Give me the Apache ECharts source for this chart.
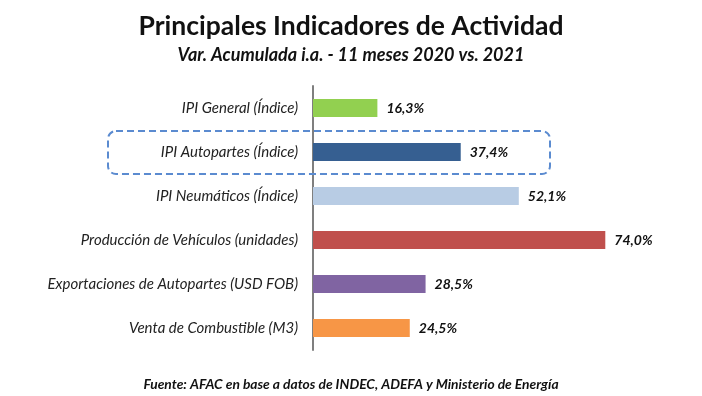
<!DOCTYPE html>
<html>
<head>
<meta charset="utf-8">
<script src="https://cdn.jsdelivr.net/npm/echarts@6/dist/echarts.min.js"></script>
<style>
  html, body { margin: 0; padding: 0; background: #fff; }
  #chart { width: 702px; height: 396px; }
</style>
</head>
<body>
<div id="chart"></div>
<script>
// Data (top to bottom)
const categories = [
  "IPI General (Índice)",
  "IPI Autopartes (Índice)",
  "IPI Neumáticos (Índice)",
  "Producción de Vehículos (unidades)",
  "Exportaciones de Autopartes (USD FOB)",
  "Venta de Combustible (M3)"
];
const values = [16.3, 37.4, 52.1, 74.0, 28.5, 24.5];
const barColors = ["#92d050", "#365f91", "#b8cce4", "#c0504d", "#8064a2", "#f79646"];

const chart = echarts.init(document.getElementById("chart"), null, { renderer: "canvas" });

const option = {
  backgroundColor: "#fff",
  animation: false,
  title: [
    {
      text: "Principales Indicadores de Actividad",
      left: "center",
      top: 8,
      textStyle: { fontFamily: "Lato", fontWeight: "bold", fontSize: 26.5, color: "#111" }
    },
    {
      text: "Var. Acumulada i.a. - 11 meses 2020 vs. 2021",
      left: "center",
      top: 41,
      textStyle: { fontFamily: "Lato", fontWeight: "bold", fontStyle: "italic", fontSize: 18, color: "#111" }
    },
    {
      text: "Fuente: AFAC en base a datos de INDEC, ADEFA y Ministerio de Energía",
      left: "center",
      top: 373,
      textStyle: { fontFamily: "Lato", fontWeight: "bold", fontStyle: "italic", fontSize: 13.8, color: "#111" }
    }
  ],
  grid: { left: 313, top: 86, bottom: 46, right: 33.5, containLabel: false },
  xAxis: {
    type: "value",
    min: 0,
    max: 90,
    show: false,
    splitLine: { show: false }
  },
  yAxis: {
    type: "category",
    inverse: true,
    data: categories,
    axisLine: { show: true, lineStyle: { color: "#7f7f7f", width: 2 } },
    axisTick: { show: false },
    axisLabel: {
      margin: 15,
      fontFamily: "Lato",
      fontStyle: "italic",
      fontSize: 15,
      color: "#222"
    }
  },
  series: [
    {
      type: "bar",
      barWidth: 18,
      data: values.map((v, i) => ({ value: v, itemStyle: { color: barColors[i] } })),
      label: {
        show: true,
        position: "right",
        distance: 9,
        formatter: p => p.value.toFixed(1).replace(".", ",") + "%",
        fontFamily: "Lato",
        fontWeight: "bold",
        fontStyle: "italic",
        fontSize: 14,
        color: "#111"
      }
    }
  ],
  graphic: [
    {
      type: "rect",
      shape: { x: 108, y: 131, width: 442, height: 43, r: 8 },
      style: { fill: null, stroke: "#5b8bd0", lineWidth: 2, lineDash: [7, 4] },
      z: 10
    }
  ]
};

chart.setOption(option);
</script>
</body>
</html>
